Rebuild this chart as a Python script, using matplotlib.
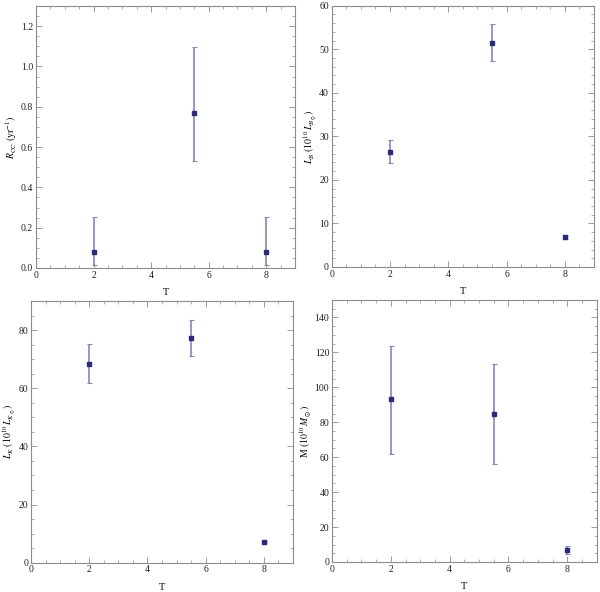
#!/usr/bin/env python3
"""Four-panel T vs. galaxy property plot (Mathematica-like frame style)."""

import matplotlib
matplotlib.use("Agg")
import matplotlib.pyplot as plt
from matplotlib.ticker import AutoMinorLocator, MultipleLocator

plt.rcParams["font.family"] = ["Liberation Serif", "DejaVu Serif"]
plt.rcParams["mathtext.fontset"] = "stix"

# Data
T = [2.0, 5.5, 8.0]

r_cc = [0.078, 0.770, 0.078]
r_cc_lo = [0.013, 0.529, 0.013]
r_cc_hi = [0.253, 1.096, 0.253]

l_b = [26.5, 51.45, 6.9]
l_b_lo = [23.9, 47.2, 6.5]
l_b_hi = [29.1, 55.7, 7.3]

l_k = [68.4, 77.1, 7.2]
l_k_lo = [61.7, 71.0, 6.9]
l_k_hi = [75.2, 83.4, 7.5]

mass = [93.1, 84.9, 6.6]
mass_lo = [62.1, 56.2, 4.4]
mass_hi = [123.8, 113.2, 9.1]

panels = [
    # (values, lo, hi, ylabel, ymax, major step, minor subdivisions, axes rect)
    (r_cc, r_cc_lo, r_cc_hi, r"$R_{\rm CC}\ ({\rm yr}^{-1})$", 1.3, 0.2, 4,
     [0.060, 0.5473, 0.4317, 0.4426]),
    (l_b, l_b_lo, l_b_hi, r"$L_B\ (10^{10}\,L_{B_\odot})$", 60, 10, 5,
     [0.5528, 0.5490, 0.4372, 0.4414]),
    (l_k, l_k_lo, l_k_hi, r"$L_K\ (10^{10}\,L_{K_\odot})$", 90, 20, 4,
     [0.0517, 0.0495, 0.4366, 0.4421]),
    (mass, mass_lo, mass_hi, r"M $(10^{10}\,M_\odot)$", 150, 20, 4,
     [0.5533, 0.0507, 0.4412, 0.4425]),
]

frame_col = "#8c8c8c"
point_col = "#2b2b78"
bar_col = "#8686bc"

fig = plt.figure(figsize=(6.0, 5.92), dpi=100)

for vals, lo, hi, ylab, ymax, step, nminor, rect in panels:
    ax = fig.add_axes(rect)
    yerr = [[v - l for v, l in zip(vals, lo)], [h - v for v, h in zip(vals, hi)]]
    ax.errorbar(T, vals, yerr=yerr, fmt="s", color=point_col, ms=2.2,
                ecolor=bar_col, elinewidth=1.2, capsize=1.8, capthick=0.8)
    ax.set_xlim(0, 9)
    ax.set_ylim(0, ymax)
    ax.xaxis.set_major_locator(MultipleLocator(2))
    ax.xaxis.set_minor_locator(AutoMinorLocator(4))
    ax.yaxis.set_major_locator(MultipleLocator(step))
    ax.yaxis.set_minor_locator(AutoMinorLocator(nminor))
    if step < 1:
        ax.yaxis.set_major_formatter(plt.FuncFormatter(lambda v, p: f"{v:.1f}"))
    ax.tick_params(which="both", direction="in", top=True, right=True,
                   color=frame_col, labelsize=7, labelcolor="#222222", pad=2)
    ax.tick_params(which="major", length=4, width=0.6)
    ax.tick_params(which="minor", length=2, width=0.5)
    for s in ax.spines.values():
        s.set_color(frame_col)
        s.set_linewidth(0.8)
    ax.set_xlabel("T", fontsize=7.5, labelpad=6)
    ax.set_ylabel(ylab, fontsize=7, labelpad=1)

fig.savefig("out.png", dpi=100)
